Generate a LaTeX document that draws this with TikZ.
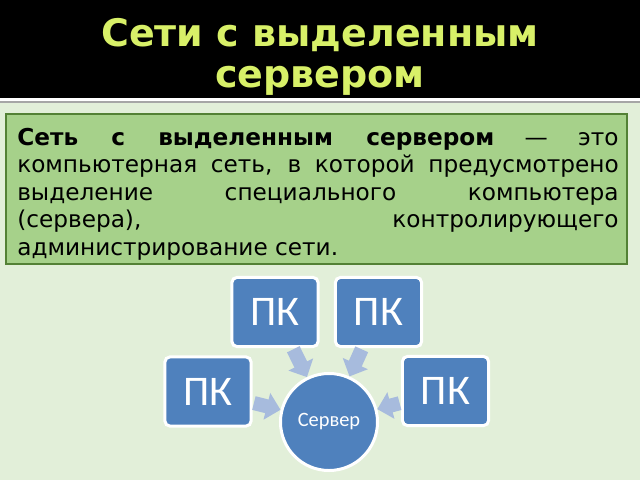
\documentclass[tikz,border=0pt]{standalone}
\usepackage{fontspec}
\setmainfont{DejaVu Sans}
\newfontfamily\calibri{Carlito}
\usetikzlibrary{arrows.meta}
\definecolor{headyellow}{RGB}{216,240,104}
\definecolor{pagegreen}{RGB}{226,239,217}
\definecolor{boxgreen}{RGB}{166,209,138}
\definecolor{boxborder}{RGB}{83,129,53}
\definecolor{pcblue}{RGB}{79,129,189}
\definecolor{linkblue}{RGB}{167,187,221}
\begin{document}
\begin{tikzpicture}[
        x=0.025cm, y=-0.025cm,
        pc/.style={rounded corners=0.12cm, draw=white, line width=0.075cm, fill=pcblue, minimum width=2.15cm, minimum height=1.725cm, text=white, font=\calibri\fontsize{30}{30}\selectfont},
        server/.style={circle, draw=white, line width=0.075cm, fill=pcblue, minimum size=2.425cm, text=white, font=\calibri\fontsize{14.5}{14.5}\selectfont},
        link/.style={draw=linkblue, line width=10pt, -{Triangle[width=19pt,length=10pt]}, shorten <=1pt}
    ]
    \useasboundingbox (0,0) rectangle (640,480);

    % Page and header
    \fill[pagegreen] (0,0) rectangle (640,480);
    \fill[black] (0,0) rectangle (640,98);
    \fill[white] (0,98) rectangle (640,101);
    \fill[gray!70] (0,101) rectangle (640,102.5);
    \node[font=\fontsize{27}{29}\selectfont\bfseries, text=headyellow, align=center, anchor=north, inner sep=0] (title) at (320,18) {Сети с выделенным\\сервером};

    % Definition
    \draw[draw=boxborder, line width=0.07cm, fill=boxgreen] (6,114) rectangle (627,264);
    \node[anchor=north west, inner sep=0, text width=15.03cm, align=justify, font=\fontsize{16.5}{19.5}\selectfont] (defn) at (17,128)
        {\textbf{Сеть с выделенным сервером} — это\linebreak компьютерная сеть, в которой предусмотрено\linebreak выделение специального компьютера\linebreak (сервера), контролирующего\linebreak администрирование сети.};

    % Computers and server
    \node[pc] (pc1) at (275,312) {ПК};
    \node[pc] (pc2) at (378.5,312) {ПК};
    \node[pc] (pc3) at (208,391.5) {ПК};
    \node[pc] (pc4) at (445.5,391) {ПК};
    \node[server] (srv) at (329,422) {Сервер};

    % Links to the server
    \draw[link] (pc1) -- (srv);
    \draw[link] (pc2) -- (srv);
    \draw[link] (pc3) -- (srv);
    \draw[link] (pc4) -- (srv);

\end{tikzpicture}
\end{document}
